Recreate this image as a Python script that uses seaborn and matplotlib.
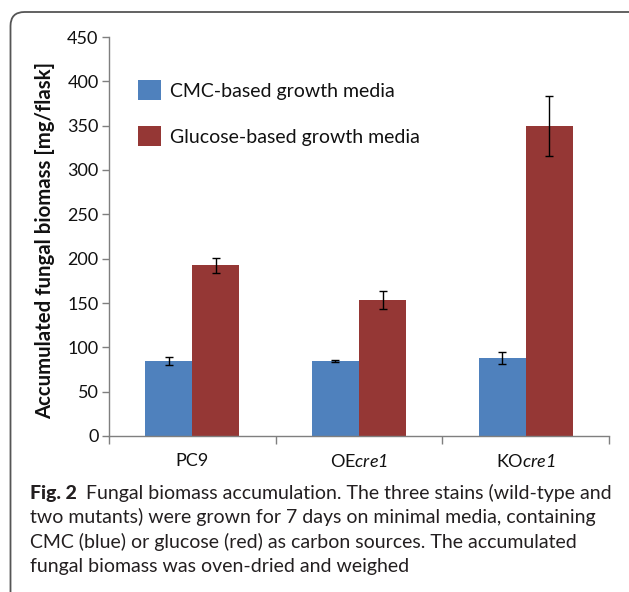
import matplotlib
matplotlib.use("Agg")
import matplotlib.pyplot as plt
import matplotlib.transforms as mtransforms
from matplotlib.patches import FancyBboxPatch
import pandas as pd
import seaborn as sns

# Biomass data (mg/flask), mean and error per strain and carbon source
strains = ["PC9", "OEcre1", "KOcre1"]
strain_labels = ["PC9", r"OE$cre1$", r"KO$cre1$"]
media = ["CMC-based growth media", "Glucose-based growth media"]
cmc_mean = [84.5, 84.5, 88.0]
cmc_err = [4.7, 1.0, 6.8]
glucose_mean = [192.5, 153.5, 350.0]
glucose_err = [8.8, 10.0, 34.0]
colors = ["#4F81BD", "#953735"]
yticks = list(range(0, 451, 50))

caption_head = "Fig. 2"
caption_lines = [
    "Fungal biomass accumulation. The three stains (wild-type and",
    "two mutants) were grown for 7 days on minimal media, containing",
    "CMC (blue) or glucose (red) as carbon sources. The accumulated",
    "fungal biomass was oven-dried and weighed",
]

sns.set_style("ticks")
plt.rcParams["font.family"] = ["Lato", "DejaVu Sans"]
# gene names are set fully in italics, digits included
plt.rcParams["mathtext.fontset"] = "custom"
plt.rcParams["mathtext.rm"] = "Lato:italic"
plt.rcParams["mathtext.it"] = "Lato:italic"

W, H = 629, 592
fig = plt.figure(figsize=(W / 100, H / 100), dpi=100)
fig.patch.set_facecolor("white")

ax = fig.add_axes([109 / W, 156 / H, 500 / W, 399 / H])

df = pd.DataFrame({
    "strain": strains * 2,
    "medium": [media[0]] * 3 + [media[1]] * 3,
    "biomass": cmc_mean + glucose_mean,
    "err": cmc_err + glucose_err,
})

sns.barplot(data=df, x="strain", y="biomass", hue="medium",
            order=strains, hue_order=media, palette=colors,
            saturation=1, width=0.565, errorbar=None, linewidth=0, ax=ax)

# Error bars centred on each drawn bar
for container, medium in zip(ax.containers, media):
    errs = df[df["medium"] == medium].set_index("strain").loc[strains, "err"].values
    for bar, e in zip(container, errs):
        xc = bar.get_x() + bar.get_width() / 2
        ax.errorbar(xc, bar.get_height(), yerr=e, fmt="none", ecolor="black",
                    elinewidth=1.0, capsize=3.2, capthick=1.0, zorder=5)

axis_color = "#7f7f7f"
ax.set_xlim(-0.5, 2.5)
ax.set_ylim(0, 450)
ax.set_yticks(yticks)
ax.set_xticks(range(len(strains)))
ax.set_xticklabels(strain_labels)
ax.set_xticks([-0.5, 0.5, 1.5, 2.5], minor=True)
ax.set_xlabel("")
ax.set_ylabel("")
for side in ["top", "right"]:
    ax.spines[side].set_visible(False)
for side in ["left", "bottom"]:
    ax.spines[side].set_color(axis_color)
    ax.spines[side].set_linewidth(1.0)
ax.tick_params(axis="y", which="major", length=5, width=1, color=axis_color,
               labelsize=13, labelcolor="#111111", pad=2.5)
ax.tick_params(axis="x", which="major", length=0, labelsize=13,
               labelcolor="#111111", pad=12.5)
ax.tick_params(axis="x", which="minor", length=6, width=1, color=axis_color)

fs_leg = 14
leg = ax.legend(loc="upper left", bbox_to_anchor=(138 / W, 1 - 80 / H),
                bbox_transform=fig.transFigure, frameon=False, fontsize=fs_leg,
                handlelength=1.2, handleheight=1.2, handletextpad=0.42,
                labelspacing=1.35, borderpad=0, borderaxespad=0)
for t in leg.get_texts():
    t.set_color("#111111")

fig.text(45 / W, 1 - 240 / H, "Accumulated fungal biomass [mg/flask]",
         rotation=90, ha="center", va="center", fontsize=14.7,
         fontweight="bold", color="#111111")

# Caption beneath the plot: bold figure number, then the running text
cap_fs = 14
cap_color = "#231f20"
head = fig.text(30 / W, 1 - 493 / H, caption_head, ha="left", va="center",
                fontsize=cap_fs, fontweight="black", color=cap_color)
renderer = fig.canvas.get_renderer()
head_right = head.get_window_extent(renderer).x1
for i, line in enumerate(caption_lines):
    x0 = (head_right + 9) / W if i == 0 else 30 / W
    fig.text(x0, 1 - (493 + 24.4 * i) / H, line, ha="left", va="center",
             fontsize=cap_fs, color=cap_color)

# Rounded frame open at the bottom and right
frame = FancyBboxPatch((10.5, -40), 700, H - 12 + 40,
                       boxstyle="round,pad=0,rounding_size=14",
                       transform=mtransforms.IdentityTransform(),
                       fill=False, edgecolor="#555555", linewidth=1.3)
fig.add_artist(frame)

fig.savefig("out.png", dpi=100)
